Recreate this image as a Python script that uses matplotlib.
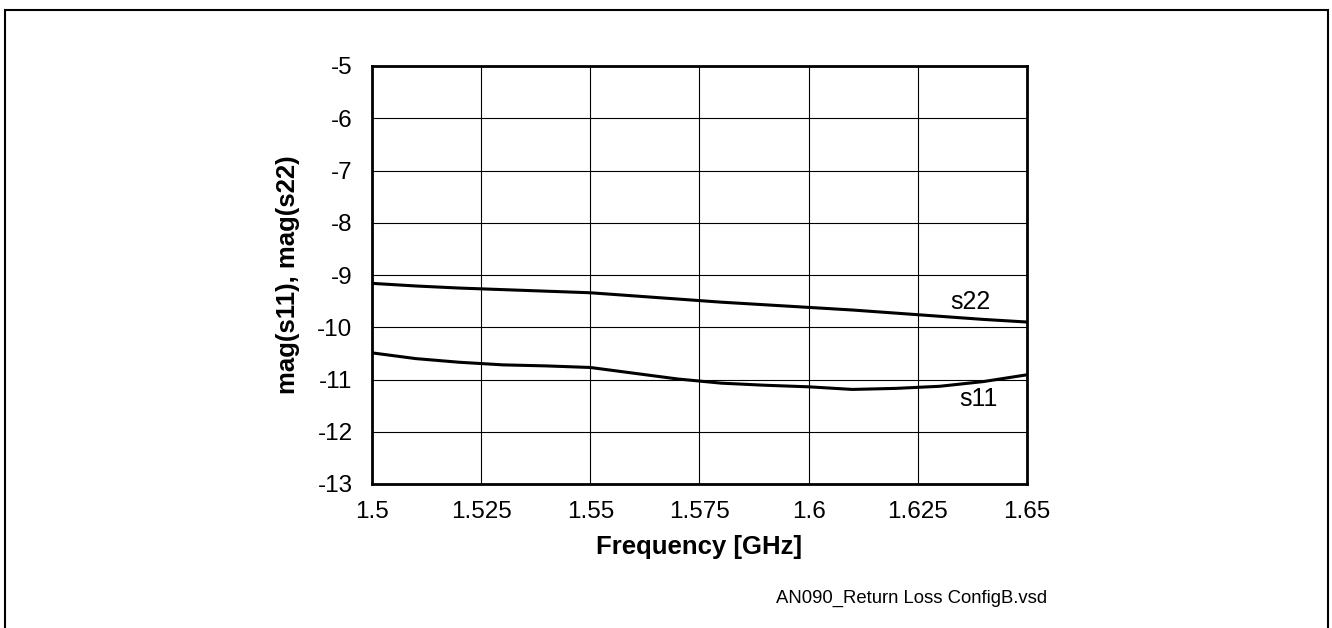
import matplotlib.pyplot as plt
from matplotlib.patches import Rectangle

plt.rcParams['font.family'] = ['Liberation Sans', 'DejaVu Sans']
plt.rcParams['axes.unicode_minus'] = False

# Частота, ГГц
freq = [1.50, 1.51, 1.52, 1.53, 1.54, 1.55, 1.56, 1.57,
        1.58, 1.59, 1.60, 1.61, 1.62, 1.63, 1.64, 1.65]
# |s22|, дБ
s22 = [-9.16, -9.21, -9.25, -9.28, -9.31, -9.34, -9.40, -9.46,
       -9.52, -9.57, -9.62, -9.67, -9.73, -9.79, -9.85, -9.90]
# |s11|, дБ
s11 = [-10.49, -10.60, -10.67, -10.72, -10.74, -10.77, -10.88, -10.99,
       -11.07, -11.11, -11.14, -11.19, -11.17, -11.13, -11.04, -10.91]

x_ticks = [1.5, 1.525, 1.55, 1.575, 1.6, 1.625, 1.65]
x_labels = ["1.5", "1.525", "1.55", "1.575", "1.6", "1.625", "1.65"]
y_ticks = list(range(-13, -4))

fig = plt.figure(figsize=(13.32, 6.28), dpi=100)
ax = fig.add_axes([372 / 1332, 1 - 484 / 628, 655 / 1332, 418 / 628])

ax.plot(freq, s22, color="black", linewidth=2.2)
ax.plot(freq, s11, color="black", linewidth=2.2)

ax.set_xlim(1.5, 1.65)
ax.set_ylim(-13, -5)
ax.set_xticks(x_ticks)
ax.set_xticklabels(x_labels)
ax.set_yticks(y_ticks)
ax.tick_params(length=0, labelsize=17.5)
ax.tick_params(axis="x", pad=12)
ax.tick_params(axis="y", pad=14)
ax.grid(True, color="black", linewidth=0.8)
for s in ax.spines.values():
    s.set_linewidth(2)

ax.set_xlabel("Frequency [GHz]", fontsize=18.5, fontweight="bold", va="center")
ax.xaxis.set_label_coords(0.5, (484 - 547) / 418)
ax.set_ylabel("mag(s11), mag(s22)", fontsize=18.5, fontweight="bold", va="center")
ax.yaxis.set_label_coords((288 - 372) / 655, 0.5)

ax.text(1.637, -9.52, "s22", fontsize=18, ha="center", va="center")
ax.text(1.639, -11.37, "s11", fontsize=18, ha="center", va="center")

fig.text(1047 / 1332, 1 - 598 / 628, "AN090_Return Loss ConfigB.vsd",
         fontsize=13.3, ha="right", va="center")

# Рамка вокруг рисунка
fig.patches.append(Rectangle((5 / 1332, -0.1), 1323 / 1332, 1.1 - 10 / 628,
                             transform=fig.transFigure, fill=False,
                             edgecolor="black", linewidth=1.5))

plt.savefig("out.png", dpi=100)
